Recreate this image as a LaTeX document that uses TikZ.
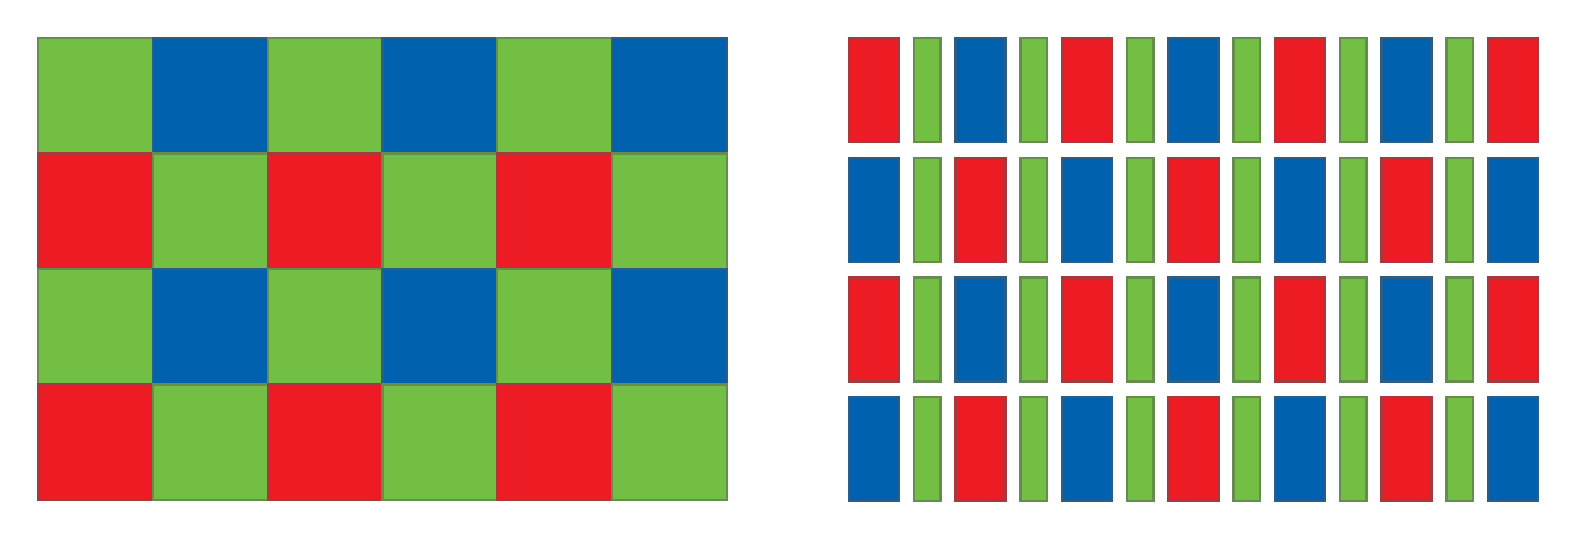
\documentclass[tikz,border=0pt]{standalone}
\definecolor{cg}{HTML}{72BF44}
\definecolor{cb}{HTML}{0062AF}
\definecolor{cr}{HTML}{ED1C24}
\tikzset{
  cell/.style={line width=2.2pt, draw=#1!60!gray!85!black, fill=#1},
}
\begin{document}
\begin{tikzpicture}[x=1pt,y=-1pt]
\useasboundingbox (0,0) rectangle (1578,538);
% left Bayer grid
\foreach \r in {0,1,2,3}{
  \foreach \c in {0,...,5}{
    \pgfmathtruncatemacro{\pp}{mod(\r+\c,2)}
    \pgfmathtruncatemacro{\oo}{mod(\r,2)}
    \ifnum\pp=0 \def\col{cg}\else\ifnum\oo=0 \def\col{cb}\else\def\col{cr}\fi\fi
    \path[cell=\col] ({38+\c*114.83},{38+\r*115.5}) rectangle ++(114.83,115.5);
  }
}
% right stripe pattern
\foreach \r in {0,1,2,3}{
  \foreach \k in {0,...,6}{
    \pgfmathtruncatemacro{\pp}{mod(\r+\k,2)}
    \ifnum\pp=0 \def\col{cr}\else\def\col{cb}\fi
    \path[cell=\col] ({849+\k*106.5},{38+\r*119.7}) rectangle ++(50,104);
  }
  \foreach \k in {0,...,5}{
    \path[cell=cg] ({914+\k*106.5},{38+\r*119.7}) rectangle ++(26.5,104);
  }
}
\end{tikzpicture}
\end{document}
